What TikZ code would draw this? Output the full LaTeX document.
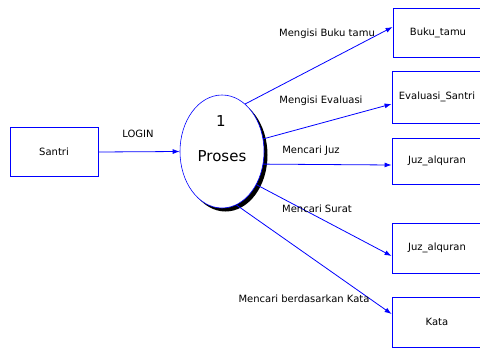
\documentclass[tikz,border=0pt]{standalone}
\usepackage{fontspec}
\setmainfont{DejaVu Sans}
\usetikzlibrary{shapes.geometric,arrows.meta,shadows}
\tikzset{
  entitas/.style={draw=blue, line width=0.8pt, minimum width=90pt, minimum height=49pt, inner sep=0pt, font=\fontsize{10}{12}\selectfont},
  prosesbox/.style={ellipse, draw=blue, line width=0.6pt, fill=white, minimum width=84pt, minimum height=113pt, inner sep=0pt,
    drop shadow={shadow xshift=3.5pt, shadow yshift=-3.5pt, fill=black, opacity=1}},
  aliran/.style={draw=blue, line width=0.8pt, -{Latex[length=7pt,width=5pt]}},
  teks/.style={inner sep=0pt, font=\fontsize{10}{12}\selectfont}
}
\begin{document}
\begin{tikzpicture}[x=1pt, y=-1pt]
        \useasboundingbox (0,0) rectangle (480,348);
        \clip (0,0) rectangle (480,348);

        \node [ entitas, minimum width=88pt ] (santri) at (54, 152) {Santri};
        \node [ prosesbox ] (proses) at (222, 151.5) {};
        \node [ inner sep=0pt, font=\fontsize{15}{18}\selectfont ] (nomor) at (221, 121) {1};
        \node [ inner sep=0pt, font=\fontsize{15}{18}\selectfont ] (namaproses) at (222, 156) {Proses};

        \node [ entitas ] (buku) at (438, 32.5) {Buku\_tamu};
        \node [ entitas, minimum height=52pt ] (evaluasi) at (437, 97) {Evaluasi\_Santri};
        \node [ entitas, minimum height=46pt ] (juz) at (437, 161) {Juz\_alquran};
        \node [ entitas, minimum height=50pt ] (surat) at (437, 248) {Juz\_alquran};
        \node [ entitas, minimum height=50pt ] (kata) at (437, 322) {Kata};

        \draw [ aliran ] (santri.east) -- (proses.west);
        \draw [ aliran ] (proses.64) -- ([yshift=5.5pt]buku.west);
        \draw [ aliran ] (proses.17) -- ([yshift=-7pt]evaluasi.west);
        \draw [ aliran ] (proses.-17) -- ([yshift=-4pt]juz.west);
        \draw [ aliran ] (proses.-44) -- ([yshift=-8pt]surat.west);
        \draw [ aliran ] (proses.-75) -- ([yshift=8pt]kata.west);

        \node [ teks ] (lbllogin) at (138, 134) {LOGIN};
        \node [ teks ] (lblbuku) at (327, 34) {Mengisi Buku tamu};
        \node [ teks ] (lblevaluasi) at (321, 101) {Mengisi Evaluasi};
        \node [ teks ] (lbljuz) at (311, 151) {Mencari Juz};
        \node [ teks ] (lblsurat) at (317, 209) {Mencari Surat};
        \node [ teks ] (lblkata) at (304, 299) {Mencari berdasarkan Kata};
\end{tikzpicture}
\end{document}
